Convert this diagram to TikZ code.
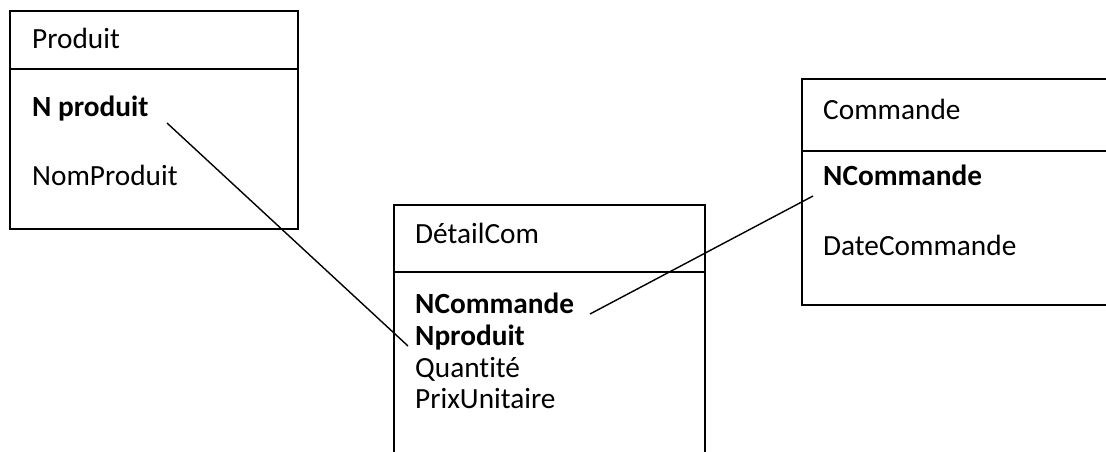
\documentclass[tikz,border=0pt]{standalone}
\usepackage{fontspec}
\setmainfont[Ligatures=NoCommon]{Carlito}
\begin{document}
\begin{tikzpicture}[x=1pt,y=-1pt,
  entbox/.style={draw=black,line width=2pt},
  txt/.style={anchor=base west,inner sep=0pt,font=\fontsize{29.3}{35}\selectfont},
  key/.style={txt,font=\fontsize{29.3}{35}\selectfont\bfseries},
  link/.style={draw=black,line width=1.4pt}]
\useasboundingbox (0,0) rectangle (1106,452);
\clip (0,0) rectangle (1106,452);
% Produit
\draw[entbox] (10,11) rectangle (298,229);
\draw[entbox] (10,69) -- (298,69);
\node[txt] (p0) at (32,49) {Produit};
\node[key] (p1) at (32,117) {N produit};
\node[txt] (p2) at (32,185) {NomProduit};
% DetailCom
\draw[entbox] (394,475) -- (394,205) -- (705,205) -- (705,475);
\draw[entbox] (394,272) -- (705,272);
\node[txt] (d0) at (415,243) {DétailCom};
\node[key] (d1) at (415,313) {NCommande};
\node[key] (d2) at (415,345) {Nproduit};
\node[txt] (d3) at (415,377) {Quantité};
\node[txt] (d4) at (415,408) {PrixUnitaire};
% Commande
\draw[entbox] (1130,79) -- (802,79) -- (802,305) -- (1130,305);
\draw[entbox] (802,151) -- (1130,151);
\node[txt] (c0) at (823,119) {Commande};
\node[key] (c1) at (823,185) {NCommande};
\node[txt] (c2) at (823,255) {DateCommande};
% links
\coordinate (l1a) at (167,123);
\coordinate (l1b) at (408,346);
\coordinate (l2a) at (590,314);
\coordinate (l2b) at (813,196);
\draw[link] (l1a) -- (l1b);
\draw[link] (l2a) -- (l2b);
\end{tikzpicture}
\end{document}
